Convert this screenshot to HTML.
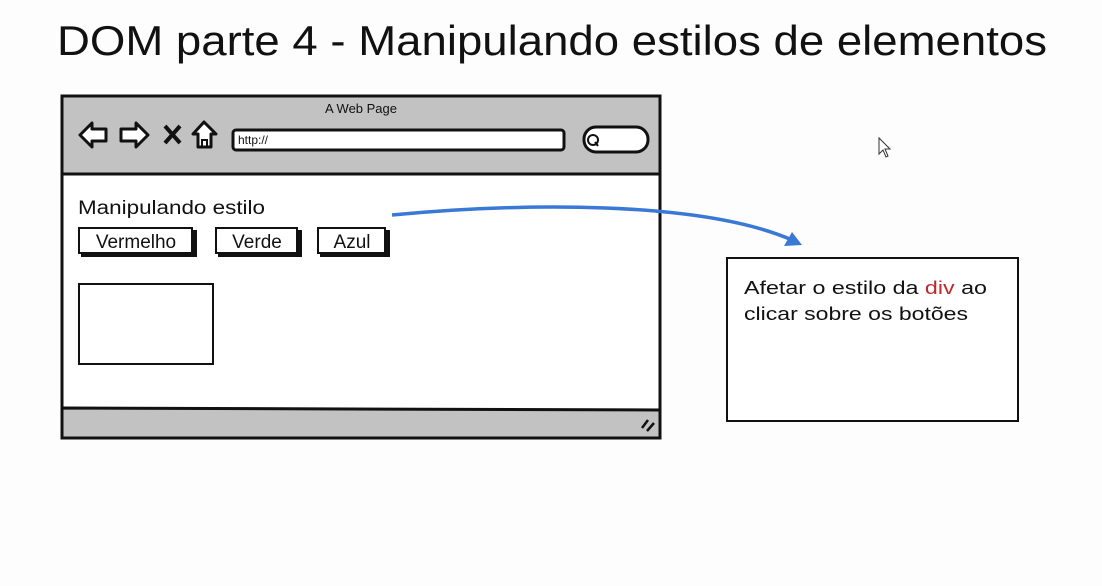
<!DOCTYPE html>
<html><head><meta charset="utf-8"><style>
html,body{margin:0;padding:0;background:#fff;width:1102px;height:586px;overflow:hidden}
svg{display:block}
text{font-family:"Liberation Sans","DejaVu Sans",sans-serif;fill:#111}
</style></head><body>
<svg width="1102" height="586" viewBox="0 0 1102 586">
<rect width="1102" height="586" fill="#fdfdfd"/>
<text x="57" y="55" font-size="42" textLength="990" lengthAdjust="spacingAndGlyphs" fill="#111">DOM parte 4 - Manipulando estilos de elementos</text>
<!-- browser -->
<rect x="62" y="96" width="598" height="342" fill="#fff" stroke="#111" stroke-width="3"/>
<rect x="62" y="96" width="598" height="78" fill="#c2c2c2" stroke="#111" stroke-width="3"/>
<path d="M62 408 L660 410 L660 438 L62 438 Z" fill="#c2c2c2" stroke="#111" stroke-width="3"/>
<text x="361" y="113" text-anchor="middle" font-size="13">A Web Page</text>
<!-- nav icons -->
<path d="M80 135 L92 123 L92 129 L106 129 L106 141 L92 141 L92 147 Z" fill="#fff" stroke="#111" stroke-width="3" stroke-linejoin="round"/>
<path d="M148 135 L136 123 L136 129 L121 129 L121 141 L136 141 L136 147 Z" fill="#fff" stroke="#111" stroke-width="3" stroke-linejoin="round"/>
<path d="M165 126 L180 143 M180 126 L165 143" stroke="#111" stroke-width="4"/>
<path d="M204 122 L193 134 L198 134 L198 147 L211 147 L211 134 L216 134 Z" fill="#fff" stroke="#111" stroke-width="3" stroke-linejoin="round"/>
<path d="M202 147 L202 140 L207 140 L207 147" fill="none" stroke="#111" stroke-width="2"/>
<rect x="233" y="130" width="331" height="20" rx="3" fill="#fff" stroke="#111" stroke-width="3"/>
<text x="238" y="144" font-size="12">http://</text>
<rect x="584" y="127" width="64" height="25" rx="12" fill="#fff" stroke="#111" stroke-width="3"/>
<circle cx="593" cy="140" r="5" fill="none" stroke="#111" stroke-width="2"/>
<path d="M595 142 L598 146" stroke="#111" stroke-width="2"/>
<path d="M642 428 L648 420 M647 431 L654 423" stroke="#111" stroke-width="2.5"/>
<!-- content -->
<text x="78" y="214" font-size="19" textLength="187" lengthAdjust="spacingAndGlyphs">Manipulando estilo</text>
<g stroke="#111" stroke-width="2">
<rect x="82" y="231" width="114" height="25" fill="#111"/>
<rect x="79" y="228" width="113" height="25" fill="#fff"/>
<rect x="219" y="231" width="82" height="25" fill="#111"/>
<rect x="216" y="228" width="81" height="25" fill="#fff"/>
<rect x="321" y="231" width="68" height="25" fill="#111"/>
<rect x="318" y="228" width="67" height="25" fill="#fff"/>
</g>
<text x="136" y="248" text-anchor="middle" font-size="19">Vermelho</text>
<text x="257" y="248" text-anchor="middle" font-size="19">Verde</text>
<text x="352" y="248" text-anchor="middle" font-size="19">Azul</text>
<rect x="79" y="284" width="134" height="80" fill="#fff" stroke="#111" stroke-width="2"/>
<!-- arrow -->
<path d="M392 215 C520 203 700 200 792 240" fill="none" stroke="#3a78d6" stroke-width="3.5"/>
<path d="M802 245 L784 246 L792 232 Z" fill="#3a78d6"/>
<!-- note -->
<rect x="727" y="258" width="291" height="163" fill="#fff" stroke="#111" stroke-width="2"/>
<text x="744" y="294" font-size="18" textLength="243" lengthAdjust="spacingAndGlyphs">Afetar o estilo da <tspan fill="#c0282b">div</tspan> ao</text>
<text x="744" y="320" font-size="18" textLength="224" lengthAdjust="spacingAndGlyphs">clicar sobre os botões</text>
<!-- cursor -->
<path d="M879 138 L879 154 L883 150 L886 157 L888 156 L885 149 L890 149 Z" fill="#fff" stroke="#333" stroke-width="1"/>
</svg>
</body></html>
